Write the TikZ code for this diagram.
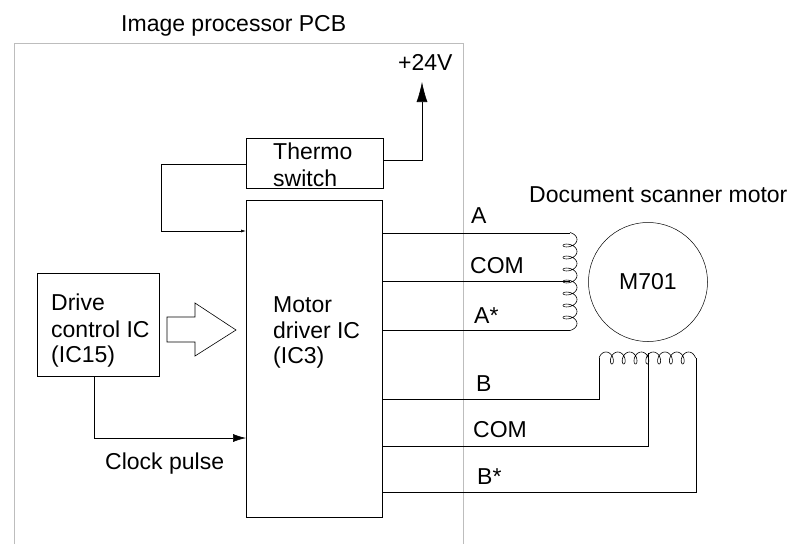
\documentclass[tikz,border=0pt]{standalone}
\usepackage{fontspec}
\setmainfont{Liberation Sans}
\usetikzlibrary{arrows.meta}
\definecolor{pcbgray}{HTML}{BDBDBD}

\begin{document}
\begin{tikzpicture}[
  x=1pt, y=-1pt,
  font=\fontsize{23pt}{25pt}\selectfont,
  box/.style   ={draw=black, line width=0.6pt, inner sep=0pt, anchor=north west},
  lab/.style   ={inner sep=0pt, anchor=base west},
  wire/.style  ={line width=0.6pt, draw=black},
  flow/.style  ={wire, -{Latex[length=5pt, width=3pt]}},
  flowbig/.style={wire, -{Latex[length=13pt, width=8pt]}},
  flowup/.style={wire, -{Latex[length=20pt, width=11pt]}},
  winding/.style={line width=0.6pt, smooth},
]
\useasboundingbox (0,0) rectangle (790,544);

% board outline
\draw[pcbgray, line width=1pt] (14,544) -- (14,43) -- (463,43) -- (463,544);
\node[lab] (pcbtitle) at (121,31) {Image processor PCB};
\node[lab] (motortitle) at (529,202) {Document scanner motor};
\node[lab] (supply) at (398,70) {+24V};

% blocks
\node[box, minimum width=137pt, minimum height=50pt] (thermo) at (246,138) {};
\node[lab] (thermotxt) at (273,159) {Thermo};
\node[lab] (switchtxt) at (273,186) {switch};
\node[box, minimum width=136pt, minimum height=317pt] (driver) at (246,200) {};
\node[lab] (drivertxt) at (273,312) {Motor};
\node[lab] (drivertxtb) at (273,338) {driver IC};
\node[lab] (drivertxtc) at (273,363) {(IC3)};
\node[box, minimum width=122pt, minimum height=103pt] (control) at (37,273) {};
\node[lab] (controltxt) at (51,310) {Drive};
\node[lab] (controltxtb) at (51,337) {control IC};
\node[lab] (controltxtc) at (51,362) {(IC15)};
\node[draw=black, line width=0.5pt, circle, minimum size=119pt, inner sep=0pt] (m701) at (648,282) {M701};

% hollow arrow
\draw[wire] (167,317) -- (195,317) -- (195,303) -- (236,330) -- (195,356) -- (195,342) -- (167,342) -- cycle;

% connections
\coordinate (plus) at (422,82);
\draw[flowup] (thermo.east |- 0,160) -| (plus);
\draw[flow] (thermo.west |- 0,164) -- (161,164) |- (driver.west |- 0,231);
\draw[flowbig] (94,376) |- (driver.west |- 0,438);

% winding A
\coordinate (atop) at (570,233);
\coordinate (amid) at (570,281);
\coordinate (abot) at (570,330);
\draw[wire] (driver.east |- atop) -- (atop);
\draw[wire] (driver.east |- amid) -- (amid);
\draw[wire] (driver.east |- abot) -- (abot);
\draw[winding] plot[domain=-90:2610, samples=181] ({577-7*(1-cos(\x))}, {239.5+\x/360*12+4*sin(\x)});

% winding B
\coordinate (bone) at (599,358);
\coordinate (bcom) at (648,353);
\coordinate (bstar) at (696,358);
\draw[wire] (driver.east |- 0,399) -- (599,399) -- (bone);
\draw[wire] (driver.east |- 0,446) -- (648,446) -- (bcom);
\draw[wire] (driver.east |- 0,492) -- (696,492) -- (bstar);
\draw[winding] plot[domain=-90:2610, samples=181] ({606+\x/360*11.8+4*sin(\x)}, {352+6*(1-cos(\x))});

% signal labels
\node[lab] (la) at (471,223) {A};
\node[lab] (lcoma) at (470,273) {COM};
\node[lab] (lastar) at (474,323) {A*};
\node[lab] (lb) at (476,391) {B};
\node[lab] (lcomb) at (473,437) {COM};
\node[lab] (lbstar) at (477,484) {B*};
\node[lab] (clock) at (105,469) {Clock pulse};
\end{tikzpicture}
\end{document}
